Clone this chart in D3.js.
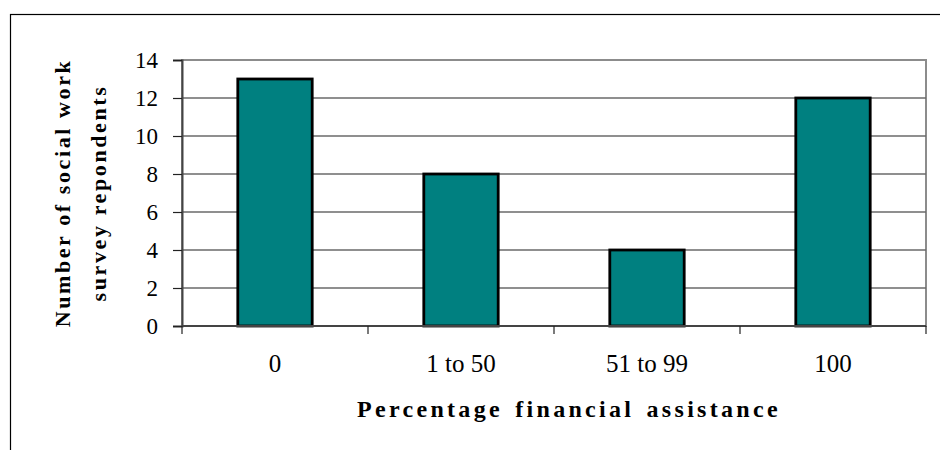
<!DOCTYPE html>
<html>
<head>
<meta charset="utf-8">
<script src="https://cdn.jsdelivr.net/npm/d3@7"></script>
<style>
  html, body { margin: 0; padding: 0; background: #fff; }
  svg { display: block; }
  text { font-family: "Liberation Serif", "Times New Roman", serif; fill: #000; }
</style>
</head>
<body>
<svg id="chart" width="940" height="450"></svg>
<script>
// Survey respondents by share of financial assistance received
const categories = ["0", "1 to 50", "51 to 99", "100"];
const respondents = [13, 8, 4, 12];
const yTicks = [0, 2, 4, 6, 8, 10, 12, 14];

const svg = d3.select("#chart");
const W = 940, H = 450;
const plot = { left: 182, top: 60, right: 926, bottom: 326 };

// outer chart frame (runs off the page to the right and bottom)
svg.append("rect")
  .attr("x", 10.5).attr("y", 14.5)
  .attr("width", W + 20).attr("height", H + 20)
  .attr("fill", "#fff").attr("stroke", "#000").attr("stroke-width", 1.2);

const x = d3.scaleBand().domain(categories).range([plot.left, plot.right]).padding(0);
const y = d3.scaleLinear().domain([0, 14]).range([plot.bottom, plot.top]);

// plot area border
svg.append("rect")
  .attr("x", plot.left).attr("y", plot.top)
  .attr("width", plot.right - plot.left).attr("height", plot.bottom - plot.top)
  .attr("fill", "#fff").attr("stroke", "#8c8c8c").attr("stroke-width", 2);

// horizontal gridlines
svg.append("g")
  .selectAll("line")
  .data(yTicks.filter(d => d > 0 && d < 14))
  .join("line")
  .attr("x1", plot.left).attr("x2", plot.right)
  .attr("y1", d => y(d)).attr("y2", d => y(d))
  .attr("stroke", "#6a6a6a").attr("stroke-width", 1.4);

// bars
const barFrac = 0.4;
svg.append("g")
  .selectAll("rect")
  .data(categories.map((c, i) => ({ c, v: respondents[i] })))
  .join("rect")
  .attr("x", d => x(d.c) + x.bandwidth() * (1 - barFrac) / 2)
  .attr("width", x.bandwidth() * barFrac)
  .attr("y", d => y(d.v))
  .attr("height", d => y(0) - y(d.v))
  .attr("fill", "#008080")
  .attr("stroke", "#000").attr("stroke-width", 2.8);

// y axis
const yAxis = svg.append("g")
  .attr("transform", `translate(${plot.left},0)`)
  .call(d3.axisLeft(y).tickValues(yTicks).tickSize(9).tickPadding(15).tickFormat(d3.format("d")));
yAxis.select(".domain").attr("stroke", "#444").attr("stroke-width", 2);
yAxis.selectAll(".tick line").attr("stroke", "#222").attr("stroke-width", 1.2);
yAxis.selectAll("text")
  .attr("font-size", 23)
  .attr("dy", "0.34em")
  .style("font-family", '"Liberation Serif", serif');

// x axis: ticks at category boundaries
const xAxis = svg.append("g").attr("transform", `translate(0,${plot.bottom})`);
xAxis.append("line")
  .attr("x1", plot.left).attr("x2", plot.right)
  .attr("y1", 0).attr("y2", 0)
  .attr("stroke", "#444").attr("stroke-width", 2);
const bounds = categories.map(c => x(c)).concat([x.range()[1]]);
xAxis.selectAll("line.tk")
  .data(bounds)
  .join("line").attr("class", "tk")
  .attr("x1", d => d).attr("x2", d => d)
  .attr("y1", 0).attr("y2", 8)
  .attr("stroke", "#222").attr("stroke-width", 1.2);
xAxis.selectAll("text")
  .data(categories)
  .join("text")
  .attr("x", d => x(d) + x.bandwidth() / 2)
  .attr("y", 46)
  .attr("text-anchor", "middle")
  .attr("font-size", 25)
  .text(d => d);

// axis titles
const cx = (plot.left + plot.right) / 2;
svg.append("text")
  .attr("x", cx + 15).attr("y", 417)
  .attr("text-anchor", "middle")
  .attr("font-size", 24).attr("font-weight", "bold")
  .style("letter-spacing", "3.3px")
  .style("word-spacing", "3px")
  .text("Percentage financial assistance");

const cy = (plot.top + plot.bottom) / 2;
const yt = svg.append("text")
  .attr("transform", `translate(0,${cy}) rotate(-90)`)
  .attr("text-anchor", "middle")
  .attr("font-size", 22).attr("font-weight", "bold")
  .style("letter-spacing", "2.6px");
yt.append("tspan").attr("x", 0).attr("y", 70).text("Number of social work");
yt.append("tspan").attr("x", 0).attr("y", 106).text("survey repondents");
</script>
</body>
</html>
